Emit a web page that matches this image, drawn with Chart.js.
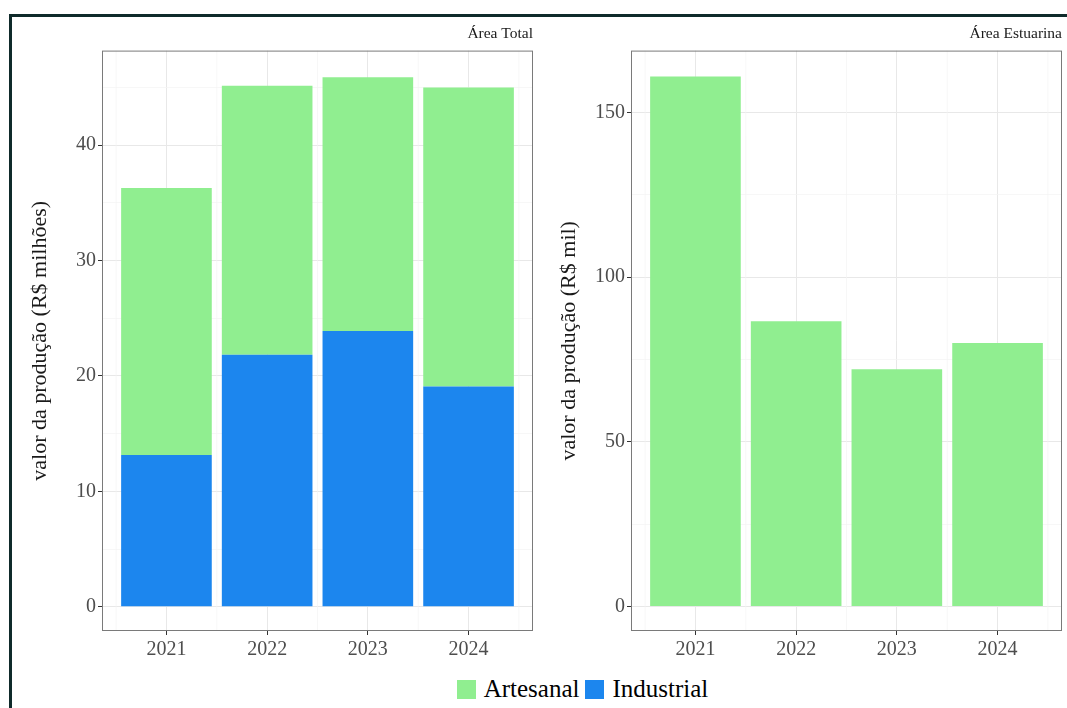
<!DOCTYPE html>
<html>
<head>
<meta charset="utf-8">
<script src="https://cdn.jsdelivr.net/npm/chart.js@4.4.1/dist/chart.umd.min.js"></script>
<style>
  html, body { margin: 0; padding: 0; background: #fff; }
  body { width: 1067px; height: 708px; position: relative; overflow: hidden; font-family: "Liberation Serif", serif; }
  #frame { position: absolute; left: 9px; top: 14px; width: 1070px; height: 720px; border: 3px solid #0f2a2a; box-sizing: border-box; }
  .box { position: absolute; }
  #left { left: 12px; top: 17px; width: 521px; height: 654px; }
  #right { left: 548px; top: 17px; width: 514px; height: 654px; }
  #legend { position: absolute; top: 675px; left: 0; width: 1165px; text-align: center; font-size: 25px; color: #000; }
  #legend span.item { display: inline-flex; align-items: center; margin: 0 3px; }
  #legend span.sw { display: inline-block; width: 19px; height: 19px; margin-right: 8px; }
</style>
</head>
<body>
<div id="frame"></div>
<div class="box" id="left"><canvas id="c1"></canvas></div>
<div class="box" id="right"><canvas id="c2"></canvas></div>
<div id="legend"></div>
<script>
const years = ["2021", "2022", "2023", "2024"];
// Área Total, R$ milhões
const totalIndustrial = [13.15, 21.85, 23.9, 19.1];
const totalArtesanal = [23.15, 23.3, 22.0, 25.9];
// Área Estuarina, R$ mil
const estuarinaArtesanal = [160.9, 86.6, 72.1, 80.0];

const leftTicks = [0, 10, 20, 30, 40];
const rightTicks = [0, 50, 100, 150];

const GREEN = "#90EE90";
const BLUE = "#1C86EE";

Chart.defaults.font.family = '"Liberation Serif", serif';
Chart.defaults.animation = false;

// pontos para o eixo x linear (índice do ano)
function pts(vals) {
  return vals.map((v, i) => ({ x: i, y: v }));
}

function isMajor(c, majors) {
  if (!c || !c.tick) return true;
  return majors.includes(c.tick.value);
}

// grade secundária do eixo x (entre os anos) + moldura do painel
const panelExtras = {
  id: "panelExtras",
  beforeDatasetsDraw(chart) {
    const a = chart.chartArea, ctx = chart.ctx, x = chart.scales.x;
    ctx.save();
    ctx.strokeStyle = "#f3f3f3";
    ctx.lineWidth = 0.7;
    [-0.5, 0.5, 1.5, 2.5, 3.5].forEach(v => {
      const px = x.getPixelForValue(v);
      ctx.beginPath();
      ctx.moveTo(px, a.top);
      ctx.lineTo(px, a.bottom);
      ctx.stroke();
    });
    ctx.restore();
  },
  afterDraw(chart) {
    const a = chart.chartArea, ctx = chart.ctx;
    ctx.save();
    ctx.strokeStyle = "#7a7a7a";
    ctx.lineWidth = 1;
    ctx.strokeRect(a.left + 0.5, a.top + 0.5, a.right - a.left - 1, a.bottom - a.top - 1);
    ctx.restore();
  }
};

function makeOptions(title, yTitle, ymin, ymax, ystep, majors, yWidth, titlePad) {
  return {
    responsive: true,
    maintainAspectRatio: false,
    layout: { padding: 0 },
    plugins: {
      legend: { display: false },
      tooltip: { enabled: false },
      title: {
        display: true, text: title, align: "end",
        color: "#1a1a1a", font: { size: 15.5, weight: "normal" },
        padding: { top: 8, bottom: 7 }
      }
    },
    scales: {
      x: {
        type: "linear", stacked: true, offset: false,
        min: -0.64, max: 3.64,
        afterBuildTicks(s) {
          s.ticks = [0, 1, 2, 3].map(v => ({ value: v }));
        },
        afterFit(s) { s.height = 40; },
        ticks: {
          color: "#4d4d4d", font: { size: 20 }, padding: 3,
          maxRotation: 0, autoSkip: false,
          callback: v => years[v]
        },
        grid: {
          offset: false,
          color: "#e8e8e8", lineWidth: 1,
          tickColor: "#333", tickLength: 4, drawTicks: true
        },
        border: { display: false }
      },
      y: {
        stacked: true,
        min: ymin, max: ymax,
        afterBuildTicks(s) {
          const t = [];
          for (let v = 0; v <= ymax; v += ystep / 2) t.push({ value: v });
          s.ticks = t;
        },
        afterFit(s) { s.width = yWidth; },
        ticks: {
          color: "#4d4d4d", font: { size: 20 }, padding: 2,
          callback: v => majors.includes(v) ? String(v) : ""
        },
        grid: {
          color: c => isMajor(c, majors) ? "#e8e8e8" : "#f3f3f3",
          lineWidth: c => isMajor(c, majors) ? 1 : 0.7,
          tickColor: c => isMajor(c, majors) ? "#333" : "rgba(0,0,0,0)",
          tickLength: 4
        },
        border: { display: false },
        title: {
          display: true, text: yTitle, color: "#1a1a1a",
          font: { size: 22 }, padding: { top: titlePad, bottom: 0 }
        }
      }
    }
  };
}

new Chart(document.getElementById("c1"), {
  type: "bar",
  data: {
    datasets: [
      { label: "Industrial", data: pts(totalIndustrial), backgroundColor: BLUE, barPercentage: 0.9, categoryPercentage: 1 },
      { label: "Artesanal", data: pts(totalArtesanal), backgroundColor: GREEN, barPercentage: 0.9, categoryPercentage: 1 }
    ]
  },
  options: makeOptions("Área Total", "valor da produção (R$ milhões)", -2.1, 48.2, 10, leftTicks, 90, 15),
  plugins: [panelExtras]
});

new Chart(document.getElementById("c2"), {
  type: "bar",
  data: {
    datasets: [
      { label: "Artesanal", data: pts(estuarinaArtesanal), backgroundColor: GREEN, barPercentage: 0.9, categoryPercentage: 1 }
    ]
  },
  options: makeOptions("Área Estuarina", "valor da produção (R$ mil)", -7.4, 168.8, 50, rightTicks, 83, 8),
  plugins: [panelExtras]
});

// legenda comum
const legendItems = [["Artesanal", GREEN], ["Industrial", BLUE]];
document.getElementById("legend").innerHTML = legendItems
  .map(([name, col]) => `<span class="item"><span class="sw" style="background:${col}"></span>${name}</span>`)
  .join("");
</script>
</body>
</html>
